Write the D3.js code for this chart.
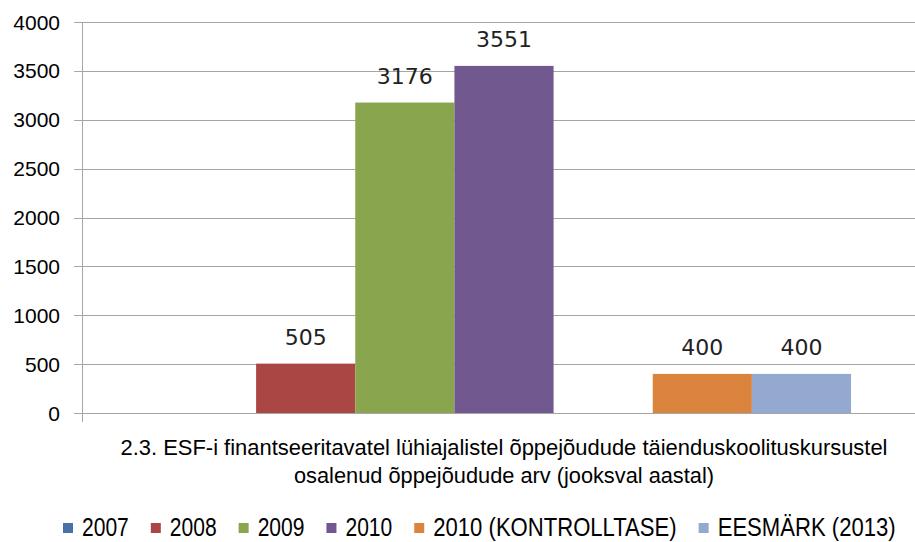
<!DOCTYPE html>
<html>
<head>
<meta charset="utf-8">
<script src="https://cdn.jsdelivr.net/npm/d3@7"></script>
<style>
  body { margin: 0; background: #fff; }
  svg { display: block; }
</style>
</head>
<body>
<div id="chart"></div>
<script>
const width = 915, height = 542;

// data
const category = "2.3. ESF-i finantseeritavatel lühiajalistel õppejõudude täienduskoolituskursustel osalenud õppejõudude arv (jooksval aastal)";
const categoryLines = ["2.3. ESF-i finantseeritavatel lühiajalistel õppejõudude täienduskoolituskursustel",
                       "osalenud õppejõudude arv (jooksval aastal)"];
const seriesNames = ["2007", "2008", "2009", "2010", "", "2010 (KONTROLLTASE)", "EESMÄRK (2013)"];
const seriesValues = [null, 505, 3176, 3551, null, 400, 400];
const seriesColors = ["#4572A7", "#AA4643", "#89A54E", "#71588F", "none", "#DB843D", "#93A9CF"];
const yTicks = [0, 500, 1000, 1500, 2000, 2500, 3000, 3500, 4000];

const svg = d3.select("#chart").append("svg")
    .attr("width", width)
    .attr("height", height);

const y = d3.scaleLinear()
    .domain([0, 4000])
    .range([413, 22]);

const x0 = d3.scaleBand()
    .domain([category])
    .range([82, 926])
    .paddingInner(0)
    .paddingOuter(0.108);

const x1 = d3.scaleBand()
    .domain(seriesNames.map((d, i) => i))
    .range([0, x0.bandwidth()]);

// gridlines
svg.append("g")
    .selectAll("line")
    .data(yTicks)
    .enter().append("line")
    .attr("x1", 74)
    .attr("x2", width)
    .attr("y1", d => Math.round(y(d)) + 0.5)
    .attr("y2", d => Math.round(y(d)) + 0.5)
    .attr("stroke", "#a6a6a6")
    .attr("stroke-width", 1);

// y axis line
svg.append("line")
    .attr("x1", 82.5).attr("x2", 82.5)
    .attr("y1", y(4000)).attr("y2", y(0) + 9)
    .attr("stroke", "#a6a6a6");

// tick labels
svg.append("g")
    .selectAll("text")
    .data(yTicks)
    .enter().append("text")
    .attr("x", 60)
    .attr("y", d => y(d))
    .attr("dy", "0.36em")
    .attr("text-anchor", "end")
    .style("font-family", "'Liberation Sans', Arial, sans-serif")
    .style("font-size", "21px")
    .attr("fill", "#000")
    .text(d => d);

const data = seriesNames.map((name, i) => ({ i: i, name: name, value: seriesValues[i], color: seriesColors[i] }))
    .filter(d => d.value !== null);

const g = svg.append("g")
    .attr("transform", "translate(" + x0(category) + ",0)");

g.selectAll("rect")
    .data(data)
    .enter().append("rect")
    .attr("x", d => x1(d.i))
    .attr("width", x1.bandwidth())
    .attr("y", d => y(d.value))
    .attr("height", d => y(0) - y(d.value))
    .attr("fill", d => d.color);

g.selectAll("text.value")
    .data(data)
    .enter().append("text")
    .attr("class", "value")
    .attr("x", d => x1(d.i) + x1.bandwidth() / 2)
    .attr("y", d => y(d.value) - 19)
    .attr("text-anchor", "middle")
    .style("font-family", "'DejaVu Sans', sans-serif")
    .style("font-size", "22px")
    .attr("fill", "#222")
    .text(d => d.value);

// category label
const cx = x0(category) + x0.bandwidth() / 2;
const catWidths = [767, 420];
svg.append("g")
    .selectAll("text")
    .data(categoryLines)
    .enter().append("text")
    .attr("x", cx)
    .attr("y", (d, i) => 455 + i * 28)
    .attr("text-anchor", "middle")
    .attr("textLength", (d, i) => catWidths[i])
    .attr("lengthAdjust", "spacingAndGlyphs")
    .style("font-family", "'Liberation Sans', Arial, sans-serif")
    .style("font-size", "22px")
    .attr("fill", "#000")
    .text(d => d);

// legend (narrow look: squeeze Liberation Sans horizontally)
const legend = svg.append("g").attr("id", "legend");
let lx = 63;
seriesNames.forEach(function(name, i) {
    if (name === "") return;
    legend.append("rect")
        .attr("x", lx)
        .attr("y", 523)
        .attr("width", 10)
        .attr("height", 10)
        .attr("fill", seriesColors[i]);
    const squeeze = name.length > 4 ? 0.85 : 0.81;
    const tg = legend.append("g")
        .attr("transform", "translate(" + (lx + 19) + ",536) scale(" + squeeze + ",1)");
    const t = tg.append("text")
        .attr("x", 0)
        .attr("y", 0)
        .style("font-family", "'Liberation Sans', Arial, sans-serif")
        .style("font-size", "26px")
        .attr("fill", "#000")
        .text(name);
    const w = t.node().getComputedTextLength() * squeeze;
    lx += 19 + w + 22;
});
</script>
</body>
</html>
